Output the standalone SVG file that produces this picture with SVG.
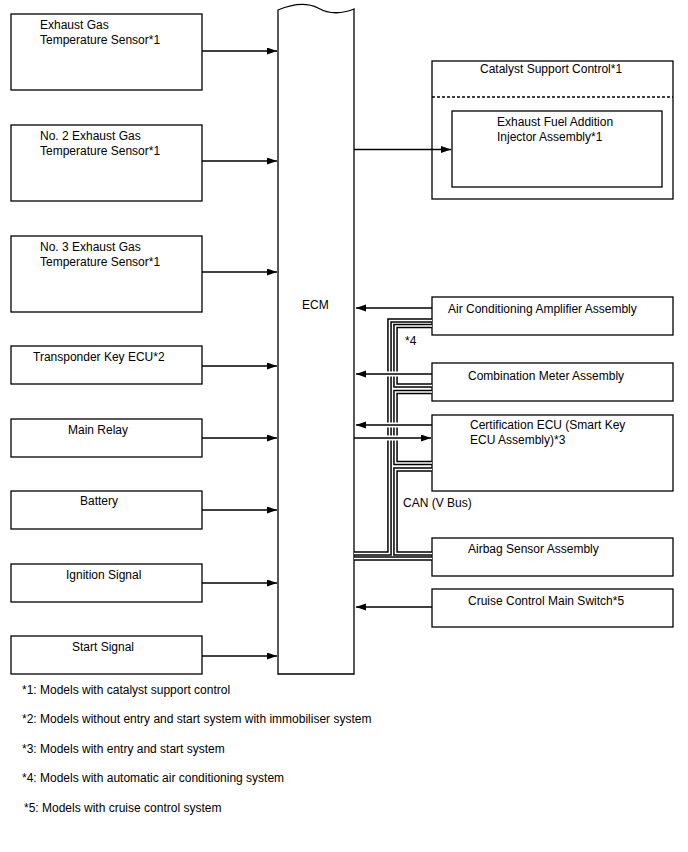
<svg xmlns="http://www.w3.org/2000/svg" width="688" height="852" viewBox="0 0 688 852">
<style>
text{font-family:"Liberation Sans",Arial,sans-serif;font-size:12px;fill:#000}
.box{fill:#fff;stroke:#000;stroke-width:1.3}
.arr{fill:none;stroke:#000;stroke-width:1.3;marker-end:url(#ah)}
.halo{fill:none;stroke:#fff;stroke-width:5}
.busk{fill:none;stroke:#000;stroke-width:4.6;stroke-linejoin:miter;stroke-linecap:butt}
.busw{fill:none;stroke:#fff;stroke-width:1.6;stroke-linejoin:miter;stroke-linecap:butt}
</style>
<defs>
<marker id="ah" markerUnits="userSpaceOnUse" markerWidth="11" markerHeight="8" refX="10" refY="3.5" orient="auto">
<path d="M0,0 L10,3.5 L0,7 z" fill="#000"/>
</marker>
</defs>
<rect width="688" height="852" fill="#fff"/>

<g id="ecm">
<path class="box" d="M278,674 V10 Q302,0 318,8 Q334,17 354,9 V674 Z"/>
<text x="302" y="309">ECM</text>
</g>

<g id="n1"><rect class="box" x="11" y="14" width="191" height="76"/><text x="40" y="29">Exhaust Gas</text><text x="40" y="44">Temperature Sensor*1</text></g>
<g id="n2"><rect class="box" x="11" y="125" width="191" height="76"/><text x="40" y="140">No. 2 Exhaust Gas</text><text x="40" y="155">Temperature Sensor*1</text></g>
<g id="n3"><rect class="box" x="11" y="236" width="191" height="76"/><text x="40" y="251">No. 3 Exhaust Gas</text><text x="40" y="266">Temperature Sensor*1</text></g>
<g id="n4"><rect class="box" x="11" y="346" width="191" height="38"/><text x="33" y="361">Transponder Key ECU*2</text></g>
<g id="n5"><rect class="box" x="11" y="419" width="191" height="38"/><text x="68" y="434">Main Relay</text></g>
<g id="n6"><rect class="box" x="11" y="491" width="191" height="38"/><text x="80" y="505">Battery</text></g>
<g id="n7"><rect class="box" x="11" y="564" width="191" height="38"/><text x="66" y="579">Ignition Signal</text></g>
<g id="n8"><rect class="box" x="11" y="636" width="191" height="38"/><text x="72" y="651">Start Signal</text></g>

<g id="catalyst">
<rect class="box" x="432" y="61" width="241" height="138"/>
<line x1="432" y1="97" x2="673" y2="97" stroke="#000" stroke-width="1.3" stroke-dasharray="3,2"/>
<text x="480" y="73">Catalyst Support Control*1</text>
</g>
<g id="injector"><rect class="box" x="452" y="111" width="210" height="76"/><text x="497" y="126">Exhaust Fuel Addition</text><text x="497" y="141">Injector Assembly*1</text></g>
<g id="ac"><rect class="box" x="432" y="297" width="241" height="38"/><text x="448" y="313">Air Conditioning Amplifier Assembly</text></g>
<g id="meter"><rect class="box" x="432" y="363" width="241" height="38"/><text x="468" y="380">Combination Meter Assembly</text></g>
<g id="cert"><rect class="box" x="432" y="415" width="241" height="76"/><text x="470" y="429">Certification ECU (Smart Key</text><text x="470" y="444">ECU Assembly)*3</text></g>
<g id="airbag"><rect class="box" x="432" y="538" width="241" height="38"/><text x="468" y="553">Airbag Sensor Assembly</text></g>
<g id="cruise"><rect class="box" x="432" y="589" width="241" height="38"/><text x="468" y="605">Cruise Control Main Switch*5</text></g>

<g id="connectors">
<path class="arr" d="M202,51 H277"/>
<path class="arr" d="M202,161 H277"/>
<path class="arr" d="M202,272 H277"/>
<path class="arr" d="M202,366 H277"/>
<path class="arr" d="M202,438 H277"/>
<path class="arr" d="M202,510 H277"/>
<path class="arr" d="M202,583 H277"/>
<path class="arr" d="M202,656 H277"/>
<path class="arr" d="M354,149.5 H451"/>
<path class="arr" d="M432,308 H356"/>
<path class="arr" d="M432,607 H356"/>
<g id="can">
<path class="busk" d="M432,320.5 H389.5 V553.5 H354"/>
<path class="busk" d="M432,326 H395.5 V385.5 H432"/>
<path class="busk" d="M432,392 H395.5 V463 H432"/>
<path class="busk" d="M432,469.5 H395.5 V553.5 H432"/>
<path class="busk" d="M354,558.5 H432"/>
<path class="busw" d="M432,320.5 H389.5 V553.5 H354"/>
<path class="busw" d="M432,326 H395.5 V385.5 H432"/>
<path class="busw" d="M432,392 H395.5 V463 H432"/>
<path class="busw" d="M432,469.5 H395.5 V553.5 H432"/>
<path class="busw" d="M354,558.5 H432"/>
</g>
<path class="halo" d="M384,374 H401 M384,425 H401 M384,438 H401"/>
<path class="arr" d="M432,374 H356"/>
<path class="arr" d="M432,425 H356"/>
<path class="arr" d="M354,438 H431"/>
</g>
<text x="405" y="345">*4</text>
<text x="403" y="507">CAN (V Bus)</text>

<g id="notes">
<text x="22" y="694">*1: Models with catalyst support control</text>
<text x="22" y="723">*2: Models without entry and start system with immobiliser system</text>
<text x="22" y="753">*3: Models with entry and start system</text>
<text x="22" y="782">*4: Models with automatic air conditioning system</text>
<text x="24" y="812">*5: Models with cruise control system</text>
</g>
</svg>
